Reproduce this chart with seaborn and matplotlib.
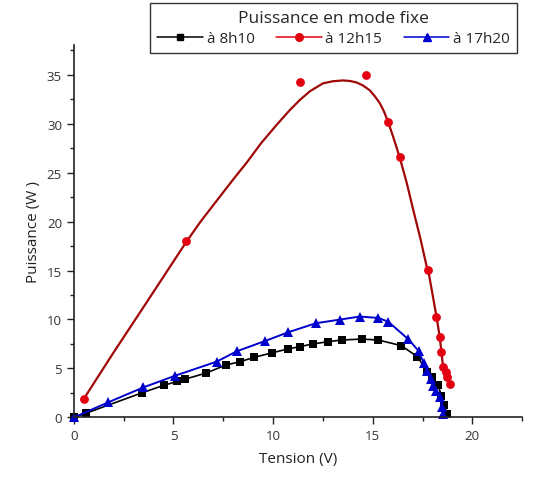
import numpy as np
import pandas as pd
import matplotlib
matplotlib.use('Agg')
import matplotlib.pyplot as plt
from matplotlib.lines import Line2D
from matplotlib.ticker import MultipleLocator
import seaborn as sns

# ── Data ──────────────────────────────────────────────────────────────────────
v_8h10 = [0.0, 0.62, 3.4, 4.54, 5.19, 5.6, 6.63, 7.63, 8.35, 9.05, 9.95, 10.76,
          11.34, 11.98, 12.78, 13.46, 14.45, 15.27, 16.44, 17.24, 17.74, 17.99,
          18.28, 18.45, 18.56, 18.74]
p_8h10 = [0.0, 0.44, 2.5, 3.3, 3.68, 3.92, 4.53, 5.35, 5.7, 6.14, 6.6, 7.0,
          7.23, 7.5, 7.74, 7.91, 8.0, 7.91, 7.33, 6.2, 4.67, 4.12,
          3.3, 2.2, 1.3, 0.37]

v_12h15 = [0.52, 5.63, 11.35, 14.66, 15.77, 16.36, 17.78, 18.2, 18.36, 18.45,
           18.53, 18.66, 18.74, 18.86]
p_12h15 = [1.9, 18.0, 34.2, 35.0, 30.2, 26.6, 15.1, 10.3, 8.25, 6.65,
           5.2, 4.6, 4.1, 3.4]

# fitted curve drawn through the 12h15 points
fit_v = [0.5, 2.0, 3.66, 5.66, 6.4, 7.2, 8.0, 8.67, 9.4, 10.17,
         10.85, 11.34, 11.85, 12.5, 13.0, 13.5, 13.85, 14.18, 14.5, 14.85, 15.1,
         15.35, 15.55, 15.77, 16.05, 16.36, 16.7, 17.02, 17.4, 17.72, 17.78,
         18.2, 18.36, 18.45, 18.53, 18.66, 18.74, 18.86]
fit_p = [1.9, 6.65, 11.77, 17.97, 20.1, 22.2, 24.3, 26.0, 28.0,
         29.85, 31.4, 32.4, 33.3, 34.1, 34.32, 34.4, 34.35, 34.2, 33.9, 33.4, 32.8,
         32.1, 31.3, 30.2, 28.5, 26.5, 24.0, 21.3, 18.2, 15.3, 15.1,
         10.3, 8.25, 6.65, 5.2, 4.6, 4.1, 3.4]

v_17h20 = [0.0, 1.73, 3.49, 5.08, 7.17, 8.17, 9.59, 10.76, 12.15, 13.35, 14.35,
           15.27, 15.77, 16.78, 17.3, 17.55, 17.72, 17.9, 18.02, 18.19, 18.36,
           18.49, 18.53]
p_17h20 = [0.0, 1.55, 3.07, 4.26, 5.7, 6.75, 7.8, 8.7, 9.62, 9.99, 10.3,
           10.16, 9.79, 8.0, 6.8, 5.6, 4.77, 3.9, 3.2, 2.7, 2.05,
           1.1, 0.34]

labels = ['à 8h10', 'à 12h15', 'à 17h20']

# ── Plot ──────────────────────────────────────────────────────────────────────
sns.set_style('ticks')
plt.rcParams['font.family'] = ['Open Sans', 'DejaVu Sans']

fig = plt.figure(figsize=(5.35, 4.81), dpi=100)
ax = fig.add_axes([0.138, 0.130, 0.838, 0.774])

sns.lineplot(x=v_8h10, y=p_8h10, sort=False, color='black', marker='s',
             markersize=5.5, markeredgewidth=0, linewidth=1.2, ax=ax, clip_on=False)
sns.lineplot(x=v_17h20, y=p_17h20, sort=False, color='#0000cc', marker='^',
             markersize=7, markeredgewidth=0, linewidth=1.4, ax=ax, clip_on=False)
sns.lineplot(x=fit_v, y=fit_p, sort=False, color='#a00808', linewidth=1.6, ax=ax)
sns.scatterplot(x=v_12h15, y=p_12h15, color='#e30010', marker='o', s=40,
                linewidth=0, ax=ax, zorder=5)

ax.set_xlim(0, 22.5)
ax.set_ylim(0, 38)
ax.xaxis.set_major_locator(MultipleLocator(5))
ax.xaxis.set_minor_locator(MultipleLocator(2.5))
ax.yaxis.set_major_locator(MultipleLocator(5))
ax.yaxis.set_minor_locator(MultipleLocator(2.5))
ax.tick_params(which='major', direction='out', length=5, width=1, labelsize=9.5,
               colors='#222222', labelcolor='#333333')
ax.tick_params(which='minor', direction='out', length=3, width=1, colors='#222222')
for s in ['top', 'right']:
    ax.spines[s].set_visible(False)
for s in ['left', 'bottom']:
    ax.spines[s].set_linewidth(1.2)
    ax.spines[s].set_color('#222222')

ax.set_xlabel('Tension (V)', fontsize=11, labelpad=6, color='#222222')
ax.set_ylabel('Puissance (W )', fontsize=11, labelpad=4, color='#222222')

handles = [
    Line2D([], [], color='black', marker='s', markersize=4.5, linewidth=1.1),
    Line2D([], [], color='#e30010', marker='o', markersize=5.5, linewidth=1.1),
    Line2D([], [], color='#0000cc', marker='^', markersize=6, linewidth=1.1),
]
leg = fig.legend(handles, labels, title='Puissance en mode fixe', ncol=3,
                 loc='upper left', bbox_to_anchor=(150 / 535, 1 - 4 / 481),
                 fontsize=11, title_fontsize=12.5, frameon=True, fancybox=False,
                 edgecolor='#333333', handlelength=3.0, columnspacing=1.4,
                 handletextpad=0.25, borderpad=0.45, borderaxespad=0,
                 labelspacing=0.35, framealpha=1)
leg.get_frame().set_linewidth(1.0)

fig.savefig('out.png', dpi=100)
